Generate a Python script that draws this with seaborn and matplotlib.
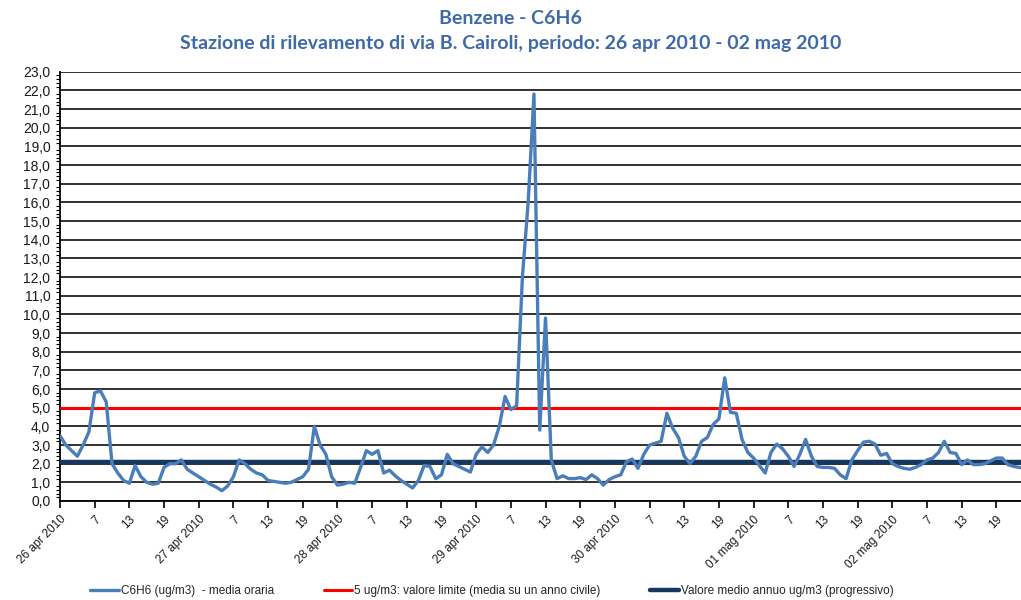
import pandas as pd
import seaborn as sb
from matplotlib import pyplot as plt
from matplotlib.ticker import MultipleLocator, FixedLocator, FuncFormatter

# valori orari benzene (ug/m3), 26 apr 2010 ore 1 -> 02 mag 2010 ore 24
giorno_1 = [3.5, 3.0, 2.7, 2.4, 3.0, 3.7, 5.8, 5.9, 5.3, 2.0, 1.5, 1.1,
            0.95, 1.9, 1.3, 1.0, 0.9, 0.95, 1.8, 2.0, 2.0, 2.2, 1.7, 1.5]
giorno_2 = [1.3, 1.1, 0.9, 0.75, 0.55, 0.8, 1.3, 2.2, 2.0, 1.7, 1.5, 1.4,
            1.1, 1.05, 1.0, 0.95, 1.0, 1.15, 1.3, 1.7, 4.0, 3.0, 2.5, 1.3]
giorno_3 = [0.85, 0.9, 1.0, 0.95, 1.8, 2.7, 2.5, 2.7, 1.5, 1.65, 1.35, 1.1,
            0.9, 0.7, 1.1, 1.9, 1.85, 1.2, 1.4, 2.5, 2.0, 1.85, 1.7, 1.55]
giorno_4 = [2.5, 2.9, 2.6, 3.0, 4.0, 5.6, 4.9, 5.1, 12.0, 16.0, 21.8, 3.8,
            9.8, 2.2, 1.2, 1.35, 1.2, 1.2, 1.25, 1.15, 1.4, 1.2, 0.85, 1.15]
giorno_5 = [1.3, 1.4, 2.1, 2.25, 1.75, 2.5, 3.0, 3.1, 3.2, 4.7, 3.9, 3.4,
            2.4, 2.0, 2.4, 3.2, 3.4, 4.1, 4.4, 6.6, 4.75, 4.7, 3.3, 2.6]
giorno_6 = [2.3, 1.9, 1.5, 2.6, 3.05, 2.8, 2.4, 1.85, 2.5, 3.3, 2.4, 1.85,
            1.8, 1.8, 1.75, 1.4, 1.2, 2.2, 2.7, 3.15, 3.2, 3.05, 2.45, 2.55]
giorno_7 = [2.0, 1.85, 1.75, 1.7, 1.8, 1.95, 2.2, 2.3, 2.6, 3.2, 2.6, 2.55,
            1.95, 2.2, 1.95, 1.95, 2.0, 2.15, 2.3, 2.3, 1.95, 1.85, 1.8, 1.75]

date = ['26 apr 2010', '27 apr 2010', '28 apr 2010', '29 apr 2010',
        '30 apr 2010', '01 mag 2010', '02 mag 2010']
ore_etichette = ['7', '13', '19']

valore_limite = 5.0
media_annua = 2.1

label_serie = 'C6H6 (ug/m3)  - media oraria'
label_limite = '5 ug/m3: valore limite (media su un anno civile)'
label_media = 'Valore medio annuo ug/m3 (progressivo)'

valori = giorno_1 + giorno_2 + giorno_3 + giorno_4 + giorno_5 + giorno_6 + giorno_7
df = pd.DataFrame({'ora': range(len(valori)), 'valore': valori})

sb.set_style('white')
plt.rcParams['font.family'] = ['Liberation Sans', 'DejaVu Sans']

fig = plt.figure(figsize=(10.21, 6.0), dpi=100)
ax = fig.add_axes([60 / 1021, 1 - 501 / 600, 961 / 1021, (501 - 71.7) / 600])

ax.axhline(valore_limite, color='#ff0000', lw=2.2, zorder=3, label=label_limite)
ax.axhline(media_annua, color='#17375e', lw=3.2, zorder=3, label=label_media)
sb.lineplot(data=df, x='ora', y='valore', ax=ax, color='#4a7ebb', lw=2.4,
            zorder=4, label=label_serie)

ax.set_ylim(0, 23)
ax.set_xlim(0, 961 / 5.78)
ax.yaxis.set_major_locator(MultipleLocator(1))
ax.yaxis.set_minor_locator(MultipleLocator(0.2))
ax.yaxis.set_major_formatter(FuncFormatter(lambda v, p: f'{v:.1f}'.replace('.', ',')))
ax.grid(axis='y', which='major', color='#222222', lw=1.3)
ax.set_axisbelow(True)

tick_pos = list(range(0, len(valori), 6))
tick_lab = []
for i in tick_pos:
    if i % 24 == 0:
        tick_lab.append(date[i // 24])
    else:
        tick_lab.append(ore_etichette[(i % 24) // 6 - 1])
ax.xaxis.set_major_locator(FixedLocator(tick_pos))
ax.set_xticklabels(tick_lab, rotation=45, ha='right', rotation_mode='anchor')

for s in ['top', 'right']:
    ax.spines[s].set_visible(False)
for s in ['left', 'bottom']:
    ax.spines[s].set_color('black')
    ax.spines[s].set_linewidth(1.3)

ax.tick_params(axis='y', which='major', direction='out', length=5, width=1,
               color='black', labelsize=10, labelcolor='#1a1a1a', pad=2)
ax.tick_params(axis='y', which='minor', direction='out', length=3, width=0.8,
               color='black', left=True)
ax.tick_params(axis='x', direction='out', length=5, width=1.2, color='black',
               labelsize=8.5, labelcolor='#1a1a1a', pad=4, bottom=True)
ax.set_xlabel('')
ax.set_ylabel('')

fig.text(0.5, 1 - 18 / 600, 'Benzene - C6H6', ha='center', va='center',
         fontsize=14, fontweight='bold', color='#3e6aa8', family='Lato')
fig.text(0.5, 1 - 44 / 600,
         'Stazione di rilevamento di via B. Cairoli, periodo: 26 apr 2010 - 02 mag 2010',
         ha='center', va='center', fontsize=14, fontweight='bold',
         color='#3e6aa8', family='Lato')

handles, labels = ax.get_legend_handles_labels()
ordine = [labels.index(label_serie), labels.index(label_limite), labels.index(label_media)]
ax.legend_.remove()
fig.legend([handles[k] for k in ordine], [labels[k] for k in ordine],
           loc='center', bbox_to_anchor=(0.482, 1 - 591 / 600), ncol=3,
           frameon=False, fontsize=8.5, handlelength=2.4, columnspacing=4.2,
           handletextpad=0.2)

fig.savefig('out.png', dpi=100)
